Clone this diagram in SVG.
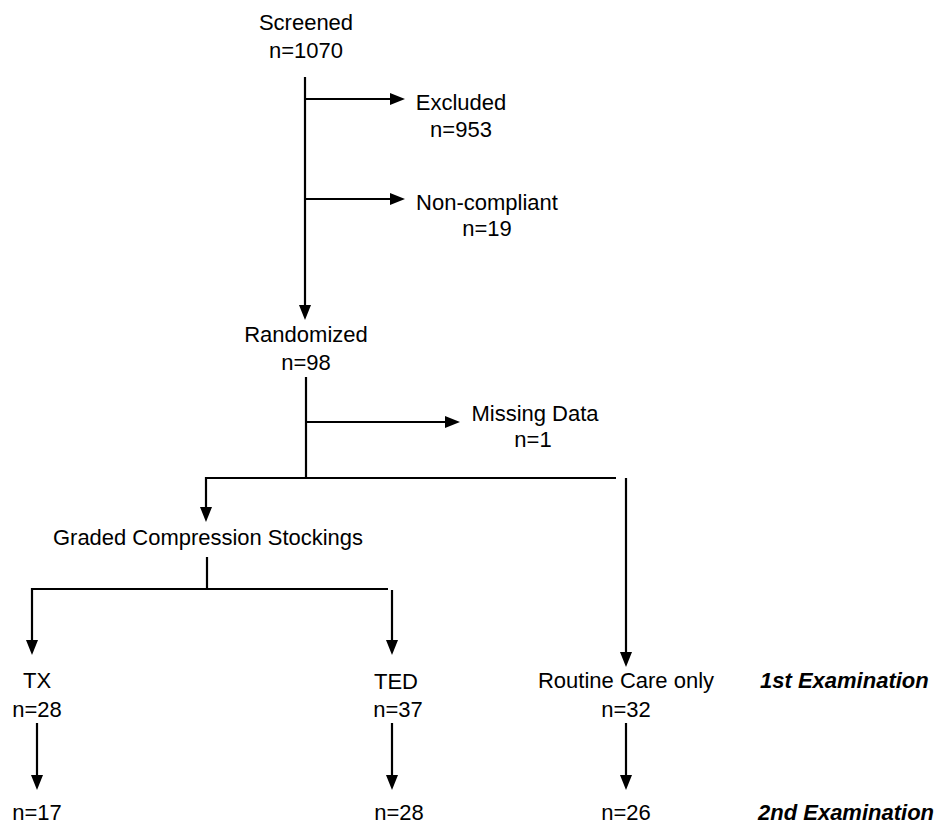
<svg xmlns="http://www.w3.org/2000/svg" width="935" height="826" viewBox="0 0 935 826">
<style>
text{font-family:"Liberation Sans",Arial,sans-serif;font-size:22px;fill:#000}
.c{text-anchor:middle}
.bi{font-weight:bold;font-style:italic}
.ln{stroke:#000;stroke-width:2.2;fill:none}
</style>
<defs>
<marker id="ah" markerUnits="userSpaceOnUse" markerWidth="15" markerHeight="12" refX="5" refY="6" orient="auto">
<path d="M0,0 L15,6 L0,12 z" fill="#000"/>
</marker>
</defs>
<rect width="935" height="826" fill="#fff"/>
<g id="connectors">
<line class="ln" x1="305" y1="77" x2="305" y2="310" marker-end="url(#ah)"/>
<line class="ln" x1="305" y1="99" x2="395" y2="99" marker-end="url(#ah)"/>
<line class="ln" x1="305" y1="199" x2="395" y2="199" marker-end="url(#ah)"/>
<line class="ln" x1="306" y1="377" x2="306" y2="478"/>
<line class="ln" x1="306" y1="422" x2="450" y2="422" marker-end="url(#ah)"/>
<line class="ln" x1="205" y1="478" x2="616" y2="478"/>
<line class="ln" x1="206" y1="477" x2="206" y2="512" marker-end="url(#ah)"/>
<line class="ln" x1="626" y1="478" x2="626" y2="657" marker-end="url(#ah)"/>
<line class="ln" x1="207" y1="557" x2="207" y2="589"/>
<line class="ln" x1="31" y1="589" x2="388" y2="589"/>
<line class="ln" x1="32" y1="588" x2="32" y2="645" marker-end="url(#ah)"/>
<line class="ln" x1="392" y1="590" x2="392" y2="645" marker-end="url(#ah)"/>
<line class="ln" x1="37" y1="723" x2="37" y2="780" marker-end="url(#ah)"/>
<line class="ln" x1="392" y1="723" x2="392" y2="780" marker-end="url(#ah)"/>
<line class="ln" x1="626" y1="723" x2="626" y2="780" marker-end="url(#ah)"/>
</g>
<g id="screened"><text class="c" x="306" y="30">Screened</text><text class="c" x="306" y="58">n=1070</text></g>
<g id="excluded"><text class="c" x="461" y="110">Excluded</text><text class="c" x="461" y="137">n=953</text></g>
<g id="noncompliant"><text class="c" x="487" y="210">Non-compliant</text><text class="c" x="487" y="236">n=19</text></g>
<g id="randomized"><text class="c" x="306" y="342">Randomized</text><text class="c" x="306" y="370">n=98</text></g>
<g id="missing"><text class="c" x="535" y="421">Missing Data</text><text class="c" x="533" y="447">n=1</text></g>
<g id="graded"><text class="c" x="208" y="545" textLength="310" lengthAdjust="spacingAndGlyphs">Graded Compression Stockings</text></g>
<g id="tx"><text class="c" x="37" y="688">TX</text><text class="c" x="37" y="717">n=28</text></g>
<g id="ted"><text class="c" x="396" y="689">TED</text><text class="c" x="398" y="717">n=37</text></g>
<g id="routine"><text class="c" x="626" y="688">Routine Care only</text><text class="c" x="626" y="717">n=32</text></g>
<g id="tx2"><text class="c" x="37" y="820">n=17</text></g>
<g id="ted2"><text class="c" x="399" y="820">n=28</text></g>
<g id="routine2"><text class="c" x="626" y="820">n=26</text></g>
<g id="exam1"><text class="bi" x="760" y="688">1st Examination</text></g>
<g id="exam2"><text class="bi" x="758" y="820">2nd Examination</text></g>
</svg>
